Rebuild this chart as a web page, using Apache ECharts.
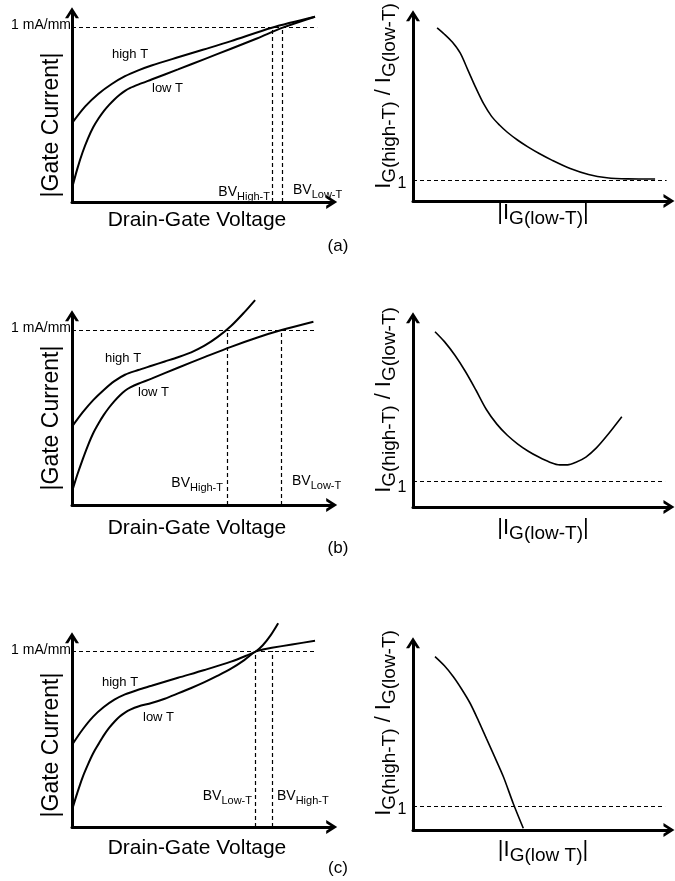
<!DOCTYPE html>
<html>
<head>
<meta charset="utf-8">
<script src="https://cdn.jsdelivr.net/npm/echarts@6/dist/echarts.min.js"></script>
<style>html,body{margin:0;padding:0;background:#fff;}#c{width:675px;height:881px;}</style>
</head>
<body>
<div id="c"></div>
<script>
// ---------- DATA (arbitrary units) ----------
// Panel (a) left: |Gate Current| vs Drain-Gate Voltage
const aHighT = [[0,40.4],[5,49],[10,55.5],[15,60.5],[20,64.5],[25,67.5],[30,70],[40,74.2],[50,78.3],[60,82.5],[75.4,89.4],[91.7,95]];
const aLowT  = [[0,7],[2,17],[4,25.5],[6,32.5],[8,38.3],[10,42.8],[12,46.6],[14,49.8],[16,52.6],[18,55],[20,57],[22,58.5],[25,60.2],[30,62.8],[40,68],[50,73.3],[60,78.6],[70,84],[79.5,89.4],[91.7,95]];
const aLevel = 89.4, aLevelEnd = 92.5, aBVHigh = 75.4, aBVLow = 79.5;
// Panel (b) left
const bHighT = [[0,40.2],[4,47.5],[8,53.8],[12,59],[16,63.5],[20,66.8],[25,69.2],[30,71.4],[35,73.6],[40,75.8],[45,78.3],[50,81.7],[55,86.2],[60,91.8],[65,98.8],[69.1,105.1]];
const bLowT  = [[0,6.8],[2,15.5],[4,23.3],[6,30.5],[8,36.8],[10,41.8],[12,46.2],[14,50],[16,53.3],[18,56.2],[20,58.6],[22,60.3],[25,62.2],[30,64.8],[40,70.4],[50,75.8],[60,81.1],[70,85.9],[79.1,89.7],[91.1,94]];
const bLevel = 89.7, bLevelEnd = 91.7, bBVHigh = 58.4, bBVLow = 79.1;
// Panel (c) left
const cHighT = [[0,42.1],[4,50],[8,56.6],[12,61.5],[16,65.3],[20,68],[25,70.4],[30,72.4],[40,76.5],[50,80.5],[60,84.8],[66,88],[69.3,90],[72,93.2],[75,98.4],[77.8,104.5]];
const cLowT  = [[0,8.7],[2,17.5],[4,25.5],[6,32],[8,37.8],[10,42.5],[12,47],[14,50.8],[16,54],[18,56.7],[20,58.7],[22,60.2],[25,61.8],[30,63.6],[35,65.8],[40,68.5],[45,71.3],[50,74.3],[55,77.6],[60,81.2],[65,85.6],[69.3,90],[72,91],[75.4,91.9],[83,93.6],[91.7,95.5]];
const cLevel = 90.3, cLevelEnd = 91.7, cBVLow = 69.3, cBVHigh = 75.4;
// Right panels: I_G(high-T)/I_G(low-T) vs |I_G(low-T)|
const raRatio = [[9.2,90.6],[12,87.3],[15,83.2],[18,77.5],[21,68.4],[24,59.2],[27,50.8],[30,44.3],[33,39.8],[36,36],[40,31.8],[44,28.2],[48,25],[53,21.4],[60,17],[67,13.9],[74,12.2],[82,11.6],[92.4,11.5]];
const rbRatio = [[8.4,89.9],[12,84.8],[16,77.8],[20,69.5],[24,60],[28,50],[32,42.5],[36,36.8],[40,32.3],[44,28.6],[48,25.6],[52,23.1],[56,21.6],[59,21.6],[62,22.8],[66,25.6],[70,30.3],[74,36.5],[79.7,46.3]];
const rcRatio = [[8.4,88.9],[12,84.2],[15.4,78.6],[18.6,72.2],[21.8,65],[25,56],[28,47],[31,38],[34.5,27.3],[38.3,13.5],[42.1,0.9]];
const raOne = 11.0, rbOne = 13.0, rcOne = 12.3;
const raOneEnd = 96.8, rbOneEnd = 96.2, rcOneEnd = 96.2;
// Texts
const leftXName = 'Drain-Gate Voltage';
const leftYName = '|Gate Current|';
const levelText = '1 mA/mm';
const panelTags = ['(a)', '(b)', '(c)'];

// ---------- CHART ----------
const FONT = "'Liberation Sans', Arial, Helvetica, sans-serif";
const ARROW = 'path://M0,11 L7,0 L14,11 L10.8,11 L7,5 L3.2,11 Z';

// grid boxes: [left, bottom, xMax, xScale(px/unit), yMax, yScale]
const boxes = [
  [72, 202, 98, 2.65, 97, 1.95],
  [413, 201, 97.7, 2.62, 97, 1.91],
  [72, 505, 98, 2.65, 97, 1.95],
  [413, 507, 97.7, 2.62, 97, 1.95],
  [72, 827, 98, 2.65, 97, 1.95],
  [413, 830, 97.7, 2.62, 96, 1.95]
];
const grids = [], xAxes = [], yAxes = [];
boxes.forEach((b, i) => {
  const w = b[2] * b[3], h = b[4] * b[5];
  grids.push({left: b[0], top: b[1] - h, width: w, height: h, containLabel: false});
  const axCommon = {
    gridIndex: i, type: 'value', min: 0,
    axisLine: {show: true, onZero: false, symbol: ['none', ARROW], symbolSize: [14, 11],
      lineStyle: {color: '#000', width: 3}},
    axisTick: {show: false}, axisLabel: {show: false}, splitLine: {show: false}
  };
  xAxes.push(Object.assign({}, axCommon, {max: b[2]}));
  yAxes.push(Object.assign({}, axCommon, {max: b[4]}));
});

const dashStyle = {type: [4, 3], color: '#000', width: 1.2};
function curve(idx, data, width, marks) {
  const s = {
    type: 'line', xAxisIndex: idx, yAxisIndex: idx, data: data,
    smooth: 0.3, showSymbol: false, symbol: 'none', clip: false, silent: true,
    lineStyle: {color: '#000', width: width}
  };
  if (marks) {
    s.markLine = {symbol: ['none', 'none'], silent: true, animation: false,
      label: {show: false}, lineStyle: dashStyle, data: marks};
  }
  return s;
}
function hLine(y, x1) { return [{coord: [0, y]}, {coord: [x1, y]}]; }
function vLine(x, y) { return [{coord: [x, 0]}, {coord: [x, y]}]; }

const series = [
  curve(0, aHighT, 2, [hLine(aLevel, aLevelEnd), vLine(aBVHigh, aLevel), vLine(aBVLow, aLevel)]),
  curve(0, aLowT, 2),
  curve(1, raRatio, 1.6, [hLine(raOne, raOneEnd)]),
  curve(2, bHighT, 2, [hLine(bLevel, bLevelEnd), vLine(bBVHigh, bLevel), vLine(bBVLow, bLevel)]),
  curve(2, bLowT, 2),
  curve(3, rbRatio, 1.6, [hLine(rbOne, rbOneEnd)]),
  curve(4, cHighT, 2, [hLine(cLevel, cLevelEnd), vLine(cBVLow, cLevel), vLine(cBVHigh, cLevel)]),
  curve(4, cLowT, 2),
  curve(5, rcRatio, 1.6, [hLine(rcOne, rcOneEnd)])
];

// ---------- TEXT ----------
function txt(x, y, text, size, align, rot) {
  return {type: 'text', x: x, y: y, rotation: rot || 0, silent: true,
    style: {text: text, fontSize: size, fontFamily: FONT, fill: '#000',
      align: align || 'center', verticalAlign: 'middle'}};
}
function rtxt(x, y, text, rich, align, rot) {
  return {type: 'text', x: x, y: y, rotation: rot || 0, silent: true,
    style: {text: text, fontFamily: FONT, fill: '#000', rich: rich,
      align: align || 'center', verticalAlign: 'middle'}};
}
const bvRich = {
  m: {fontSize: 14, fontFamily: FONT, fill: '#000', lineHeight: 20},
  s: {fontSize: 11, fontFamily: FONT, fill: '#000', lineHeight: 11, verticalAlign: 'bottom'}
};
const igRich = {
  m: {fontSize: 22, fontFamily: FONT, fill: '#000', lineHeight: 30},
  s: {fontSize: 19, fontFamily: FONT, fill: '#000', lineHeight: 19, verticalAlign: 'bottom'}
};
const R = Math.PI / 2;
const graphics = [];
const rows = [
  {yName: 125, xName: 220, lvl: 25, hi: [112, 54], lo: [152, 88],
   bvL: ['{m|BV}{s|High-T}', 270, 192], bvR: ['{m|BV}{s|Low-T}', 293, 190],
   ryName: 96, one: 184, rx: 213, rxText: '{m||I}{s|G(low-T)}{m||}', tag: 246},
  {yName: 418, xName: 528, lvl: 328, hi: [105, 358], lo: [138, 392],
   bvL: ['{m|BV}{s|High-T}', 223, 483], bvR: ['{m|BV}{s|Low-T}', 292, 481],
   ryName: 400, one: 488, rx: 528, rxText: '{m||I}{s|G(low-T)}{m||}', tag: 548},
  {yName: 745, xName: 848, lvl: 650, hi: [102, 682], lo: [143, 717],
   bvL: ['{m|BV}{s|Low-T}', 252, 796], bvR: ['{m|BV}{s|High-T}', 277, 796],
   ryName: 723, one: 810, rx: 850, rxText: '{m||I}{s|G(low T)}{m||}', tag: 868}
];
rows.forEach((r, i) => {
  graphics.push(txt(52, r.yName, leftYName, 23, 'center', R));
  graphics.push(txt(197, r.xName, leftXName, 21, 'center'));
  graphics.push(txt(71, r.lvl, levelText, 14, 'right'));
  graphics.push(txt(r.hi[0], r.hi[1], 'high T', 13, 'left'));
  graphics.push(txt(r.lo[0], r.lo[1], 'low T', 13, 'left'));
  graphics.push(rtxt(r.bvL[1], r.bvL[2], r.bvL[0], bvRich, 'right'));
  graphics.push(rtxt(r.bvR[1], r.bvR[2], r.bvR[0], bvRich, 'left'));
  graphics.push(rtxt(384, r.ryName, '{m|I}{s|G(high-T)}{m| / I}{s|G(low-T)}', igRich, 'center', R));
  graphics.push(txt(402, r.one, '1', 16, 'center'));
  graphics.push(rtxt(543, r.rx, r.rxText, igRich, 'center'));
  graphics.push(txt(338, r.tag, panelTags[i], 17, 'center'));
});

const chart = echarts.init(document.getElementById('c'), null, {renderer: 'canvas'});
chart.setOption({
  animation: false,
  backgroundColor: '#fff',
  grid: grids, xAxis: xAxes, yAxis: yAxes,
  series: series,
  graphic: graphics
});
</script>
</body>
</html>
